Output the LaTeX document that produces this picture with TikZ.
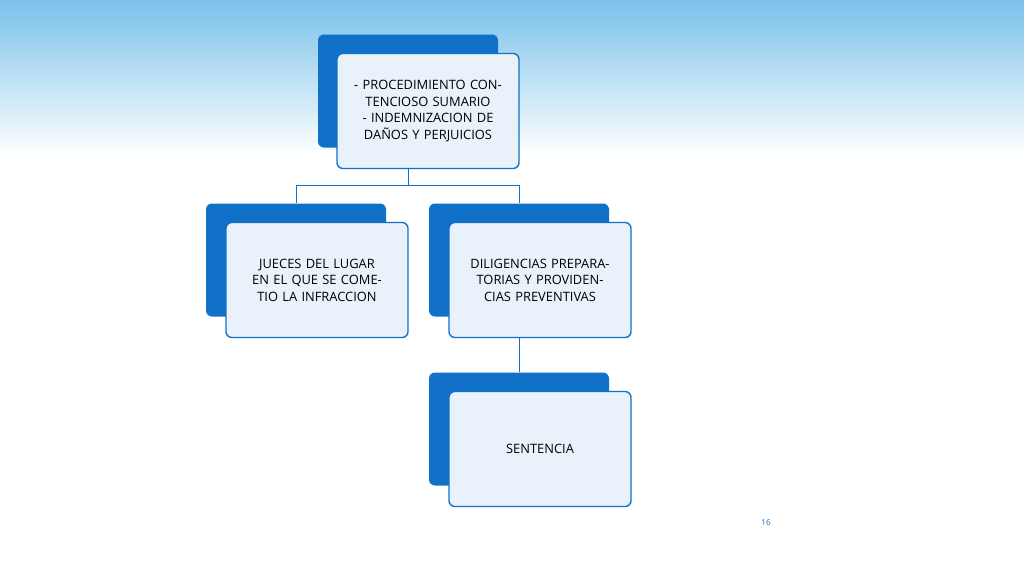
\documentclass[tikz,border=0pt]{standalone}
\usepackage{fontspec}
\setmainfont{Open Sans}
\usetikzlibrary{positioning}
\definecolor{boxblue}{HTML}{1170C8}
\definecolor{boxpale}{HTML}{E9F2FA}
\definecolor{skyblue}{HTML}{7AC1EA}
\tikzset{
  backbox/.style={fill=boxblue, rounded corners=5pt, minimum width=180*0.03cm, minimum height=113*0.03cm, inner sep=0pt},
  frontbox/.style={fill=boxpale, draw=boxblue, line width=1.2pt, rounded corners=5pt, minimum width=182*0.03cm, minimum height=115*0.03cm, text width=150*0.03cm, align=center, font=\fontsize{11}{14}\selectfont, inner sep=0pt},
  link/.style={draw=boxblue, line width=0.8pt}
}
\begin{document}
\begin{tikzpicture}[x=0.03cm,y=-0.03cm]
  \useasboundingbox (0,0) rectangle (1024,576);
  \shade[top color=skyblue, bottom color=white] (0,0) rectangle (1024,155);
  % root
  \node[backbox] (rootB) at (408,91) {};
  \node[frontbox] (root) at (428,111) {- PROCEDIMIENTO CONTENCIOSO SUMARIO - INDEMNIZACION DE DAÑOS Y PERJUICIOS};
  % children
  \node[backbox] (judgeB) at (296,260) {};
  \node[frontbox] (judge) at (317,280) {JUECES DEL LUGAR EN EL QUE SE COMETIO LA INFRACCION};
  \node[backbox] (prepB) at (519,260) {};
  \node[frontbox] (prep) at (540,280) {DILIGENCIAS PREPARATORIAS Y PROVIDENCIAS PREVENTIVAS};
  \node[backbox] (sentB) at (519,429) {};
  \node[frontbox] (sent) at (540,449) {SENTENCIA};
  % connectors
  \coordinate (fork) at (408,185);
  \draw[link] (root.south -| rootB) -- (fork);
  \draw[link] (fork) -| (judgeB.north);
  \draw[link] (fork) -| (prepB.north);
  \draw[link] (prep.south -| prepB) -- (sentB.north);
  \node[font=\fontsize{7}{8}\selectfont, text=boxblue] (page) at (766,523) {16};
\end{tikzpicture}
\end{document}
